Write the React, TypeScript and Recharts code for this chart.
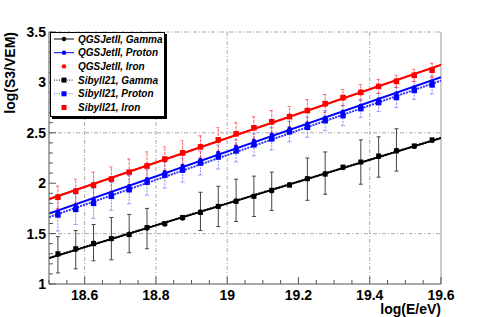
import React from "react";
import {
  ComposedChart,
  Scatter,
  Line,
  XAxis,
  YAxis,
  CartesianGrid,
  ErrorBar,
  ReferenceLine,
} from "recharts";

// log(E/eV) bin centres
const energy = [
  18.525, 18.575, 18.625, 18.675, 18.725, 18.775, 18.825, 18.875, 18.925, 18.975, 19.025,
  19.075, 19.125, 19.175, 19.225, 19.275, 19.325, 19.375, 19.425, 19.475, 19.525, 19.575,
];

const qgsGamma = [
  1.29, 1.34, 1.41, 1.45, 1.5, 1.55, 1.59, 1.65, 1.72, 1.77, 1.83,
  1.87, 1.92, 1.99, 2.04, 2.1, 2.15, 2.21, 2.26, 2.33, 2.36, 2.42,
];
const qgsProton = [
  1.72, 1.78, 1.84, 1.9, 1.97, 2.04, 2.11, 2.17, 2.23, 2.3, 2.36,
  2.42, 2.48, 2.54, 2.59, 2.65, 2.71, 2.77, 2.83, 2.89, 2.95, 3.01,
];
const qgsIron = [
  1.87, 1.93, 1.99, 2.05, 2.11, 2.18, 2.23, 2.31, 2.37, 2.42, 2.49,
  2.55, 2.6, 2.67, 2.73, 2.78, 2.84, 2.91, 2.96, 3.02, 3.08, 3.13,
];
const sibGamma = [
  1.3, 1.35, 1.4, 1.45, 1.49, 1.56, 1.6, 1.66, 1.71, 1.77, 1.82,
  1.87, 1.93, 1.98, 2.045, 2.09, 2.16, 2.21, 2.27, 2.32, 2.37, 2.43,
];
const sibProton = [
  1.685, 1.74, 1.8, 1.87, 1.935, 2.01, 2.08, 2.13, 2.2, 2.26, 2.32,
  2.38, 2.44, 2.51, 2.555, 2.62, 2.67, 2.74, 2.8, 2.85, 2.92, 2.975,
];
const sibIron = [
  1.86, 1.92, 1.98, 2.04, 2.11, 2.17, 2.24, 2.3, 2.36, 2.43, 2.49,
  2.55, 2.61, 2.66, 2.72, 2.79, 2.85, 2.9, 2.96, 3.01, 3.07, 3.12,
];

const gammaErr = [
  0.18, 0.19, 0.18, 0.21, 0.19, 0.2, 0, 0, 0.19, 0.2, 0.21,
  0.2, 0.19, 0, 0.21, 0.21, 0, 0.22, 0.2, 0.21, 0, 0,
];
const protonErr = [
  0.16, 0.15, 0.15, 0.14, 0.14, 0.13, 0.13, 0.12, 0.12, 0.12, 0.11,
  0.11, 0.11, 0.1, 0.1, 0.1, 0.1, 0.09, 0.09, 0.1, 0.09, 0.09,
];
const ironErr = [
  0.11, 0.12, 0.13, 0.12, 0.13, 0.14, 0.12, 0.12, 0.11, 0.12, 0.11,
  0.11, 0.11, 0.1, 0.11, 0.09, 0.08, 0.08, 0.07, 0.06, 0.06, 0.07,
];

const xLabels = ["18.6", "18.8", "19", "19.2", "19.4", "19.6"];
const yLabels = ["1", "1.5", "2", "2.5", "3", "3.5"];
const xGrid = [18.6, 18.8, 19, 19.4];
const yGrid = [1.5, 2.5, 3.5];

const X_MIN = 18.5;
const X_MAX = 19.6;

const legendItems = [
  { name: "QGSJetII, Gamma", color: "#000", marker: "circle", line: "solid" },
  { name: "QGSJetII, Proton", color: "#0000ff", marker: "circle", line: "solid" },
  { name: "QGSJetII, Iron", color: "#ff0000", marker: "circle", line: "none" },
  { name: "Sibyll21, Gamma", color: "#000", marker: "square", line: "dotted" },
  { name: "Sibyll21, Proton", color: "#0000ff", marker: "square", line: "dotted" },
  { name: "Sibyll21, Iron", color: "#ff0000", marker: "square", line: "none" },
];

const font = "'Liberation Sans', Arial, Helvetica, sans-serif";

const rows = (ys: number[], errs?: number[]) =>
  energy.map((x, i) => ({ x, y: ys[i], e: errs ? errs[i] : 0 }));

// straight-line least squares fit, drawn over the full axis range
function fitLine(ys: number[]) {
  const n = energy.length;
  const mx = energy.reduce((a, b) => a + b, 0) / n;
  const my = ys.reduce((a, b) => a + b, 0) / n;
  let sxy = 0;
  let sxx = 0;
  energy.forEach((x, i) => {
    sxy += (x - mx) * (ys[i] - my);
    sxx += (x - mx) * (x - mx);
  });
  const b = sxy / sxx;
  const a = my - b * mx;
  return [
    { x: X_MIN, y: a + b * X_MIN },
    { x: X_MAX, y: a + b * X_MAX },
  ];
}

const xTicks: number[] = [];
for (let i = 0; i <= 22; i++) xTicks.push(Math.round((X_MIN + i * 0.05) * 100) / 100);
const yTicks: number[] = [];
for (let i = 0; i <= 25; i++) yTicks.push(Math.round((1 + i * 0.1) * 10) / 10);

const isLabel = (v: number, labels: string[]) => labels.includes(String(v));

function XTick(props: any) {
  const { x, y, payload } = props;
  const major = isLabel(payload.value, xLabels);
  return (
    <g>
      <line x1={x} x2={x} y1={y} y2={y - (major ? 7 : 4)} stroke="#555" />
      {major && (
        <text x={x} y={y + 16} textAnchor="middle" fontSize={14} fontWeight="bold" fontFamily={font} fill="#000">
          {String(payload.value)}
        </text>
      )}
    </g>
  );
}

function YTick(props: any) {
  const { x, y, payload } = props;
  const major = isLabel(payload.value, yLabels);
  return (
    <g>
      <line x1={x} x2={x + (major ? 7 : 4)} y1={y} y2={y} stroke="#555" />
      {major && (
        <text x={x - 3} y={y + 5} textAnchor="end" fontSize={14} fontWeight="bold" fontFamily={font} fill="#000">
          {String(payload.value)}
        </text>
      )}
    </g>
  );
}

const square = (color: string, s = 5.5) => (p: any) =>
  <rect x={p.cx - s / 2} y={p.cy - s / 2} width={s} height={s} fill={color} />;
const dot = (color: string, r = 2.2) => (p: any) => <circle cx={p.cx} cy={p.cy} r={r} fill={color} />;

function LegendBox() {
  return (
    <div
      style={{
        position: "absolute",
        left: 50,
        top: 32,
        width: 113,
        height: 83,
        background: "#fff",
        border: "1px solid #000",
        boxShadow: "2px 2px 0 #000",
        fontFamily: font,
      }}
    >
      <svg width={113} height={83} style={{ display: "block" }}>
        {legendItems.map((item, i) => {
          const cy = 6 + i * 13.7;
          return (
            <g key={item.name}>
              {item.line !== "none" && (
                <line
                  x1={3}
                  x2={23}
                  y1={cy}
                  y2={cy}
                  stroke={item.color}
                  strokeOpacity={item.line === "dotted" && item.color !== "#000" ? 0.6 : 1}
                  strokeDasharray={item.line === "dotted" ? "1 1.5" : undefined}
                />
              )}
              {item.marker === "circle" ? (
                <circle cx={13} cy={cy} r={2.2} fill={item.color} />
              ) : (
                <rect x={10.5} y={cy - 2.5} width={5} height={5} fill={item.color} />
              )}
              <text x={27} y={cy + 3.5} fontSize={10} fontWeight="bold" fontStyle="italic" fill="#000">
                {item.name}
              </text>
            </g>
          );
        })}
      </svg>
    </div>
  );
}

export default function App() {
  return (
    <div style={{ position: "absolute", left: 0, top: 0, width: 491, height: 317, background: "#fff" }}>
      <ComposedChart width={491} height={317} margin={{ top: 32, right: 50, bottom: 0, left: 0 }}>
        <CartesianGrid
          stroke="#aaa"
          strokeDasharray="4 2 1 2"
          verticalValues={xGrid}
          horizontalValues={yGrid}
        />
        <XAxis
          type="number"
          dataKey="x"
          domain={[X_MIN, X_MAX]}
          ticks={xTicks}
          interval={0}
          allowDataOverflow
          height={33}
          tickSize={0}
          tickMargin={0}
          tick={<XTick />}
          axisLine={{ stroke: "#555" }}
          tickLine={false}
        />
        <YAxis
          type="number"
          dataKey="y"
          domain={[1, 3.5]}
          ticks={yTicks}
          interval={0}
          allowDataOverflow
          width={49}
          tickSize={0}
          tickMargin={0}
          tick={<YTick />}
          axisLine={{ stroke: "#555" }}
          tickLine={false}
        />
        <ReferenceLine x={X_MAX} stroke="#999" />

        <Line data={fitLine(sibGamma)} dataKey="y" type="linear" stroke="#000" strokeWidth={2} strokeDasharray="2 1" dot={false} isAnimationActive={false} />
        <Line data={fitLine(qgsGamma)} dataKey="y" type="linear" stroke="#000" strokeWidth={1.6} dot={false} isAnimationActive={false} />
        <Line data={fitLine(sibProton)} dataKey="y" type="linear" stroke="#3030ff" strokeWidth={2} strokeDasharray="2 1" dot={false} isAnimationActive={false} />
        <Line data={fitLine(qgsProton)} dataKey="y" type="linear" stroke="#0000ff" strokeWidth={2} dot={false} isAnimationActive={false} />
        <Line data={fitLine(sibIron)} dataKey="y" type="linear" stroke="#ff0000" strokeWidth={2} dot={false} isAnimationActive={false} />
        <Line data={fitLine(qgsIron)} dataKey="y" type="linear" stroke="#ff0000" strokeWidth={1.5} dot={false} isAnimationActive={false} />

        <Scatter data={rows(qgsGamma, gammaErr)} shape={dot("#000")} isAnimationActive={false}>
          <ErrorBar dataKey="e" direction="y" width={2} stroke="#444" strokeWidth={1} />
        </Scatter>
        <Scatter data={rows(sibGamma)} shape={square("#000", 5)} isAnimationActive={false} />
        <Scatter data={rows(qgsProton)} shape={dot("#0000ff")} isAnimationActive={false} />
        <Scatter data={rows(sibProton, protonErr)} shape={square("#0000ff")} isAnimationActive={false}>
          <ErrorBar dataKey="e" direction="y" width={2} stroke="#4040ff" strokeOpacity={0.6} strokeDasharray="2 1" strokeWidth={1} />
        </Scatter>
        <Scatter data={rows(qgsIron)} shape={dot("#ff0000")} isAnimationActive={false} />
        <Scatter data={rows(sibIron, ironErr)} shape={square("#ff0000")} isAnimationActive={false}>
          <ErrorBar dataKey="e" direction="y" width={2} stroke="#ff2020" strokeOpacity={0.7} strokeDasharray="3 1" strokeWidth={1} />
        </Scatter>
      </ComposedChart>

      <LegendBox />

      <svg
        width={491}
        height={317}
        style={{ position: "absolute", left: 0, top: 0, pointerEvents: "none", fontFamily: font }}
      >
        <text transform="translate(15,32) rotate(-90)" textAnchor="end" fontSize={14} fontWeight="bold" fill="#000">
          log(S3/VEM)
        </text>
        <text x={441} y={314} textAnchor="end" fontSize={14} fontWeight="bold" fill="#000">
          log(E/eV)
        </text>
      </svg>
    </div>
  );
}
